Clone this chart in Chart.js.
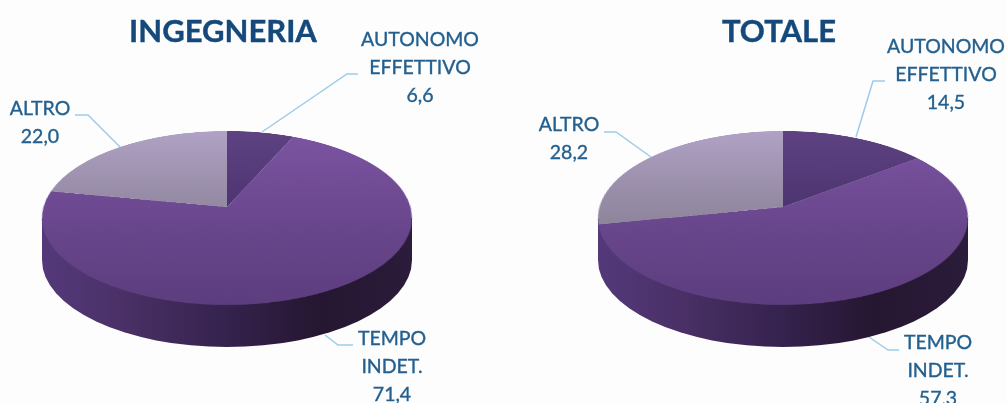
<!DOCTYPE html>
<html>
<head>
<meta charset="utf-8">
<title>Ingegneria / Totale</title>
<script src="https://cdn.jsdelivr.net/npm/chart.js@4"></script>
<style>
  html, body { margin: 0; padding: 0; background: #fdfdfe; }
  #page { position: relative; width: 1006px; height: 403px; overflow: hidden; font-family: Lato, "Open Sans", sans-serif; filter: blur(0.45px); }
  #page canvas { position: absolute; }
  .title { position: absolute; transform: translate(-50%, -50%); font-size: 31px; font-weight: 700; color: #15497c; white-space: nowrap; -webkit-text-stroke: 0.4px #15497c; }
  .label { position: absolute; transform: translateX(-50%); font-size: 19.5px; line-height: 28px; color: #23608f; text-align: center; white-space: nowrap; -webkit-text-stroke: 0.35px #23608f; }
</style>
</head>
<body>
<div id="page">
  <canvas id="walls" width="1006" height="403"></canvas>
  <canvas id="pieIngegneria" width="400" height="400"></canvas>
  <canvas id="pieTotale" width="400" height="400"></canvas>
</div>
<script>
const categories = ["AUTONOMO EFFETTIVO", "TEMPO INDET.", "ALTRO"];
const ingegneriaValues = [6.6, 71.4, 22.0];
const totaleValues = [14.5, 57.3, 28.2];
const labelLines = [["AUTONOMO", "EFFETTIVO"], ["TEMPO", "INDET."], ["ALTRO"]];

// layout only
const pies = [
  {
    id: "pieIngegneria", title: "INGEGNERIA", values: ingegneriaValues, cx: 227, titleX: 223, titleY: 30,
    labels: [[420, 25], [392, 324], [40, 94]],
    leaders: [
      [[262, 132], [347, 74], [358, 74]],
      [[325, 335], [338, 345], [353, 345]],
      [[75, 115], [88, 115], [120, 147]],
    ],
  },
  {
    id: "pieTotale", title: "TOTALE", values: totaleValues, cx: 783, titleX: 779, titleY: 30,
    labels: [[946, 32], [938, 328], [569, 110]],
    leaders: [
      [[856, 137], [873, 81], [885, 81]],
      [[869, 337], [888, 350], [899, 350]],
      [[604, 132], [616, 132], [651, 157]],
    ],
  },
];

const RADIUS = 183.5;
const APEX_Y = 207;
const RIM_Y = 218;
const RIM_RX = 185;
const RIM_RY = 87;
const DEPTH = 42;

const page = document.getElementById("page");
const wallCtx = document.getElementById("walls").getContext("2d");

function drawWall(cx) {
  const grad = wallCtx.createLinearGradient(cx - RIM_RX, 0, cx + RIM_RX, 0);
  grad.addColorStop(0, "#54397a");
  grad.addColorStop(0.2, "#4b3168");
  grad.addColorStop(0.5, "#35224d");
  grad.addColorStop(0.75, "#251631");
  grad.addColorStop(1, "#2a1c3a");
  wallCtx.fillStyle = grad;
  wallCtx.beginPath();
  wallCtx.moveTo(cx - RIM_RX, RIM_Y);
  wallCtx.lineTo(cx - RIM_RX, RIM_Y + DEPTH);
  wallCtx.ellipse(cx, RIM_Y + DEPTH, RIM_RX, RIM_RY, 0, Math.PI, 0, true);
  wallCtx.lineTo(cx + RIM_RX, RIM_Y);
  wallCtx.closePath();
  wallCtx.fill();
}

function drawLeaders(points) {
  wallCtx.strokeStyle = "#9fcbe8";
  wallCtx.lineWidth = 1.5;
  wallCtx.beginPath();
  points.forEach((p, i) => (i ? wallCtx.lineTo(p[0], p[1]) : wallCtx.moveTo(p[0], p[1])));
  wallCtx.stroke();
}

function faceGradient(ctx, top, bottom) {
  const grad = ctx.createLinearGradient(0, 200 - RADIUS, 0, 200 + RADIUS);
  grad.addColorStop(0, top);
  grad.addColorStop(1, bottom);
  return grad;
}

pies.forEach((pie) => {
  pie.leaders.forEach(drawLeaders);
  drawWall(pie.cx);

  const canvas = document.getElementById(pie.id);
  canvas.style.left = pie.cx - 200 + "px";
  canvas.style.top = APEX_Y - 200 + "px";
  canvas.style.transformOrigin = "200px 200px";
  canvas.style.transform = "perspective(1288px) rotateX(62.2deg)";

  const ctx = canvas.getContext("2d");
  new Chart(ctx, {
    type: "pie",
    data: {
      labels: categories,
      datasets: [
        {
          data: pie.values,
          backgroundColor: [
            faceGradient(ctx, "#5e4282", "#3d2960"),
            faceGradient(ctx, "#7d55a3", "#5c3d7e"),
            faceGradient(ctx, "#b0a2c5", "#77707f"),
          ],
          borderWidth: 0,
        },
      ],
    },
    options: {
      responsive: false,
      animation: false,
      radius: RADIUS,
      plugins: { legend: { display: false }, tooltip: { enabled: false } },
    },
  });

  const title = document.createElement("div");
  title.className = "title";
  title.textContent = pie.title;
  title.style.left = pie.titleX + "px";
  title.style.top = pie.titleY + "px";
  page.appendChild(title);

  categories.forEach((cat, i) => {
    const label = document.createElement("div");
    label.className = "label";
    label.style.left = pie.labels[i][0] + "px";
    label.style.top = pie.labels[i][1] + "px";
    const value = pie.values[i].toFixed(1).replace(".", ",");
    label.innerHTML = labelLines[i].concat(value).join("<br>");
    page.appendChild(label);
  });
});
</script>
</body>
</html>
